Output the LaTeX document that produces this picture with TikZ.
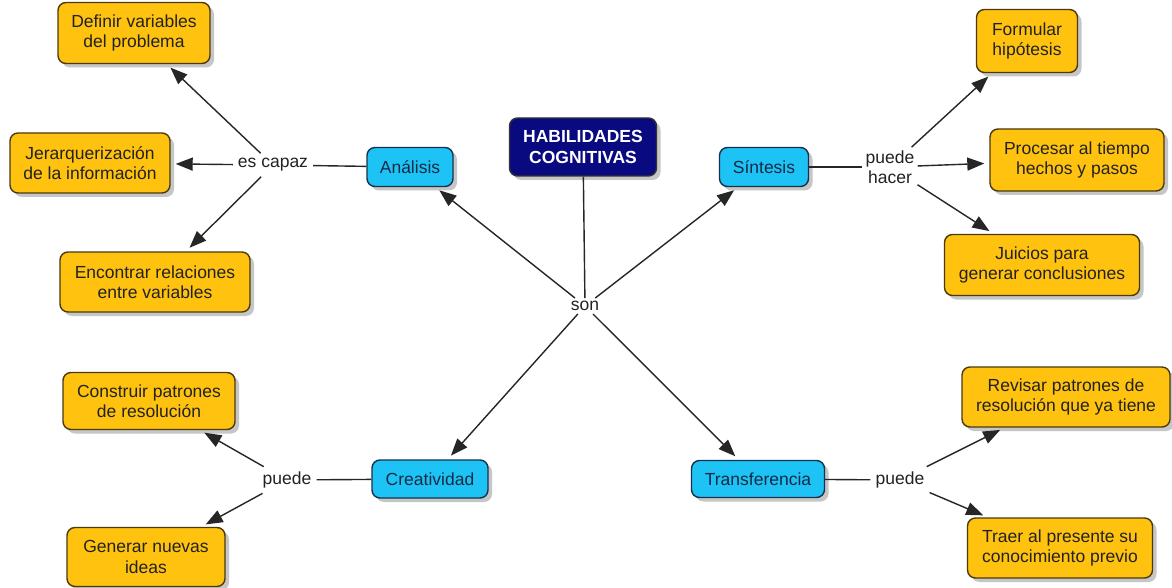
\documentclass[tikz,border=0pt]{standalone}
\usepackage{fontspec}
\setmainfont{Liberation Sans}
\usetikzlibrary{arrows.meta,shadows}
\definecolor{ideafill}{HTML}{FFC20E}
\definecolor{ideadraw}{HTML}{4A3A10}
\definecolor{conceptfill}{HTML}{1EC3F5}
\definecolor{conceptdraw}{HTML}{17324F}
\definecolor{conceptText}{HTML}{152A45}
\definecolor{rootfill}{HTML}{0A0A80}
\definecolor{textdark}{HTML}{222222}
\tikzset{
  box/.style={rounded corners=8pt, line width=1.4pt, align=center, inner sep=0pt,
    font=\fontsize{17.5}{20.5}\selectfont,
    drop shadow={shadow xshift=4pt, shadow yshift=-4pt, fill=black!28, opacity=0.8}},
  idea/.style={box, fill=ideafill, draw=ideadraw, text=textdark},
  concept/.style={box, fill=conceptfill, draw=conceptdraw, text=conceptText},
  root/.style={box, fill=rootfill, draw=black!80, text=white, font=\fontsize{17.5}{20.5}\selectfont\bfseries},
  linkword/.style={inner sep=5pt, text=textdark, align=center, font=\fontsize{17.5}{20.5}\selectfont},
  link/.style={line width=1.4pt, draw=black!85},
  arrowlink/.style={link, -{Triangle[length=17pt,width=13pt]}, shorten >=5pt},
}
\begin{document}
\begin{tikzpicture}[x=1pt,y=-1pt]
\useasboundingbox[fill=white] (0,0) rectangle (1172,588);

% central concept and linking word
\node[root, minimum width=147pt, minimum height=58pt] (hab) at (583,147) {HABILIDADES\\COGNITIVAS};
\node[linkword, inner sep=3pt] (son) at (585,306) {son};

% four abilities
\node[concept, minimum width=86pt, minimum height=39pt] (ana) at (410,167) {Análisis};
\node[concept, minimum width=89pt, minimum height=39pt] (sin) at (764,167) {Síntesis};
\node[concept, minimum width=116pt, minimum height=38pt] (cre) at (430,479) {Creatividad};
\node[concept, minimum width=133pt, minimum height=37pt] (tra) at (758,479) {Transferencia};

% linking words
\node[linkword] (escapaz) at (273,165) {es capaz};
\node[linkword, inner sep=3pt] (puedehacer) at (890,167) {puede\\hacer};
\node[linkword] (puedeA) at (287,480) {puede};
\node[linkword] (puedeB) at (900,480) {puede};

% Análisis
\node[idea, minimum width=152pt, minimum height=61pt] (def) at (134,33) {Definir variables\\del problema};
\node[idea, minimum width=160pt, minimum height=60pt] (jer) at (90,163) {Jerarquerización\\de la información};
\node[idea, minimum width=190pt, minimum height=60pt] (enc) at (155,282) {Encontrar relaciones\\entre variables};

% Síntesis
\node[idea, minimum width=101pt, minimum height=63pt] (for) at (1027,41) {Formular\\hipótesis};
\node[idea, minimum width=174pt, minimum height=62pt] (pro) at (1077,160) {Procesar al tiempo\\hechos y pasos};
\node[idea, minimum width=195pt, minimum height=61pt] (jui) at (1042,265) {Juicios para\\generar conclusiones};

% Creatividad
\node[idea, minimum width=172pt, minimum height=57pt] (con) at (149,401) {Construir patrones\\de resolución};
\node[idea, minimum width=158pt, minimum height=59pt] (gen) at (146,557) {Generar nuevas\\ideas};

% Transferencia
\node[idea, minimum width=208pt, minimum height=60pt] (rev) at (1066,397) {Revisar patrones de\\resolución que ya tiene};
\node[idea, minimum width=185pt, minimum height=60pt] (tra2) at (1060,548) {Traer al presente su\\conocimiento previo};

% connectors
\draw[link] (hab) -- (son);
\draw[arrowlink] (son) -- (ana);
\draw[arrowlink] (son) -- (sin);
\draw[arrowlink] (son) -- (cre);
\draw[arrowlink] (son) -- (tra);

\draw[link] (ana) -- (escapaz);
\draw[arrowlink] (escapaz) -- (def);
\draw[arrowlink] (escapaz) -- (jer);
\draw[arrowlink] (escapaz) -- (enc);

\draw[link] (sin) -- (puedehacer);
\draw[arrowlink] (puedehacer) -- (for);
\draw[arrowlink] (puedehacer) -- (pro);
\draw[arrowlink] (puedehacer) -- (jui);

\draw[link] (cre) -- (puedeA);
\draw[arrowlink] (puedeA) -- (con);
\draw[arrowlink] (puedeA) -- (gen);

\draw[link] (tra) -- (puedeB);
\draw[arrowlink] (puedeB) -- (rev);
\draw[arrowlink] (puedeB) -- (tra2);
\end{tikzpicture}
\end{document}
